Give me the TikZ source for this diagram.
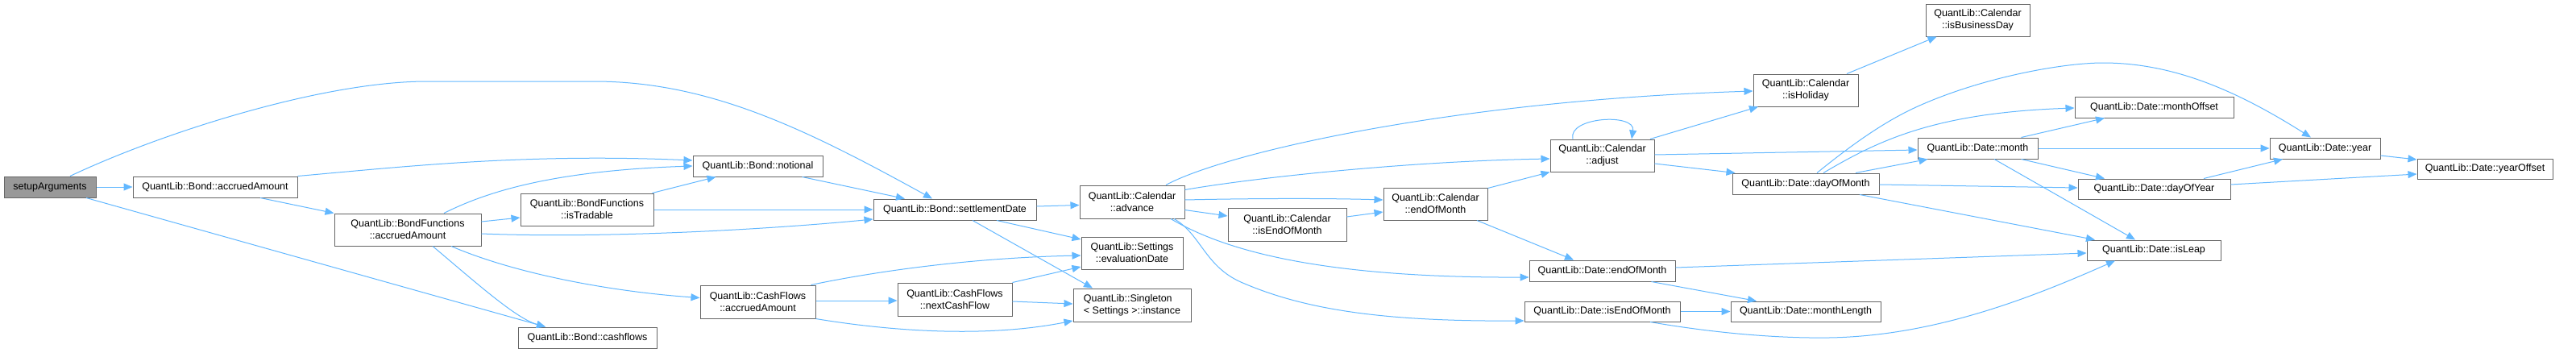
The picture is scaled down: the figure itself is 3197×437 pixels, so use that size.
\documentclass[tikz,border=0pt]{standalone}
\usepackage{fontspec}
\setmainfont{Liberation Sans}
\usetikzlibrary{arrows.meta,calc}
\definecolor{edgec}{HTML}{63B8FF}
\definecolor{bordc}{HTML}{666666}
\definecolor{selc}{HTML}{999999}
\newcommand\bx[7]{\node[box,#1,minimum width={#5pt-#3pt},minimum height={#6pt-#4pt}] (#2) at ({(#3+#5)/2},{(#4+#6)/2}) {#7};}
\begin{document}
\begin{tikzpicture}[x=1pt,y=-1pt,
 box/.style={draw=bordc,line width=1pt,fill=white,inner sep=0pt,align=center,font=\fontsize{12.5}{15}\selectfont},
 sel/.style={fill=selc},
 lft/.style={align=left},
 ed/.style={draw=edgec,line width=1pt,-{Triangle[length=11pt,width=9pt]}}]
\fill[white] (0,0) rectangle (3197,437);
\useasboundingbox (0,0) rectangle (3197,437);
% nodes
\bx{sel}{sa}{5}{219}{119}{245}{setupArguments}
\bx{}{baa}{165}{219}{369}{245}{QuantLib::Bond::accruedAmount}
\bx{}{bfaa}{415}{265}{597}{305}{QuantLib::BondFunctions\\::accruedAmount}
\bx{}{bn}{860}{193}{1021}{219}{QuantLib::Bond::notional}
\bx{}{bfit}{646}{240}{811}{280}{QuantLib::BondFunctions\\::isTradable}
\bx{}{cfaa}{869}{354}{1012}{395}{QuantLib::CashFlows\\::accruedAmount}
\bx{}{bcf}{643}{406}{815}{432}{QuantLib::Bond::cashflows}
\bx{}{bsd}{1084}{247}{1286}{273}{QuantLib::Bond::settlementDate}
\bx{}{cadv}{1340}{230}{1470}{271}{QuantLib::Calendar\\::advance}
\bx{}{sed}{1342}{294}{1468}{334}{QuantLib::Settings\\::evaluationDate}
\bx{}{cfncf}{1114}{351}{1256}{392}{QuantLib::CashFlows\\::nextCashFlow}
\bx{lft}{sgi}{1332}{358}{1478}{399}{QuantLib::Singleton\\< Settings >::instance}
\bx{}{cieom}{1524}{258}{1671}{299}{QuantLib::Calendar\\::isEndOfMonth}
\bx{}{ceom}{1717}{233}{1846}{273}{QuantLib::Calendar\\::endOfMonth}
\bx{}{cadj}{1924}{173}{2053}{213}{QuantLib::Calendar\\::adjust}
\bx{}{deom}{1898}{323}{2079}{349}{QuantLib::Date::endOfMonth}
\bx{}{dieom}{1892}{374}{2085}{399}{QuantLib::Date::isEndOfMonth}
\bx{}{cibd}{2390}{5}{2519}{45}{QuantLib::Calendar\\::isBusinessDay}
\bx{}{chol}{2176}{92}{2306}{132}{QuantLib::Calendar\\::isHoliday}
\bx{}{dmon}{2380}{171}{2529}{197}{QuantLib::Date::month}
\bx{}{ddom}{2150}{215}{2332}{241}{QuantLib::Date::dayOfMonth}
\bx{}{dml}{2148}{374}{2334}{399}{QuantLib::Date::monthLength}
\bx{}{dmo}{2575}{120}{2772}{146}{QuantLib::Date::monthOffset}
\bx{}{ddoy}{2579}{222}{2768}{247}{QuantLib::Date::dayOfYear}
\bx{}{dil}{2590}{298}{2756}{323}{QuantLib::Date::isLeap}
\bx{}{dyr}{2817}{171}{2954}{197}{QuantLib::Date::year}
\bx{}{dyo}{3000}{197}{3168}{222}{QuantLib::Date::yearOffset}
% edges
\draw[ed] (sa.east) -- (baa.west);
\draw[ed] ([xshift=25pt]sa.north) .. controls (200,165) and (400,101) .. (530,101) -- (737,101) .. controls (880,101) and (1000,160) .. ([xshift=-28pt]bsd.north);
\draw[ed] ([xshift=45pt]sa.south) -- ([xshift=-52pt]bcf.north);
\draw[ed] ([xshift=56pt]baa.south) -- (bfaa.north west);
\draw[ed] (baa.north east) .. controls (500,207) and (650,190) .. ([yshift=7pt]bn.west);
\draw[ed] ([xshift=45pt]bfaa.north) .. controls (600,240) and (680,212) .. (bn.west);
\draw[ed] ([yshift=10pt]bfaa.east) -- ([yshift=-10pt]bfit.west);
\draw[ed] ([yshift=-5pt]bfaa.east) .. controls (750,296) and (950,285) .. ([yshift=-12pt]bsd.west);
\draw[ed] ([xshift=54pt]bfaa.south) .. controls (640,340) and (760,362) .. ([yshift=5pt]cfaa.west);
\draw[ed] ([xshift=31pt]bfaa.south) .. controls (590,350) and (640,395) .. ([xshift=-52pt]bcf.north);
\draw[ed] ([xshift=-2pt]bfit.north east) -- ([xshift=-52pt]bn.south);
\draw[ed] (bfit.east) -- (bsd.west);
\draw[ed] ([xshift=55pt]bn.south) -- ([xshift=-62pt]bsd.north);
\draw[ed] ([yshift=4pt]bsd.east) -- ([yshift=-4pt]cadv.west);
\draw[ed] ([xshift=52pt]bsd.south) -- ([yshift=17pt]sed.west);
\draw[ed] ([xshift=22pt]bsd.south) -- ([xshift=-49pt]sgi.north);
\draw[ed] ([xshift=66pt]cfaa.north) .. controls (1080,338) and (1200,320) .. ([yshift=-3pt]sed.west);
\draw[ed] ([yshift=1.5pt]cfaa.east) -- ([yshift=-1.5pt]cfncf.west);
\draw[ed] (cfaa.south east) .. controls (1100,410) and (1220,420) .. ([yshift=-19.5pt]sgi.west);
\draw[ed] (cfncf.north east) -- ([yshift=-17pt]sed.west);
\draw[ed] ([yshift=-2.5pt]cfncf.east) -- ([yshift=1.5pt]sgi.west);
\draw[ed] ([xshift=42pt]cadv.north) .. controls (1520,190) and (1800,125) .. ([yshift=-1pt]chol.west);
\draw[ed] ([yshift=-6pt]cadv.north east) .. controls (1560,220) and (1750,200) .. ([yshift=-4pt]cadj.west);
\draw[ed] ([yshift=2.5pt]cadv.east) .. controls (1560,246) and (1650,246) .. ([yshift=5pt]ceom.west);
\draw[ed] ([yshift=-10pt]cadv.east) -- ([yshift=10.5pt]cieom.west);
\draw[ed] ([xshift=48pt]cadv.south) .. controls (1510,305) and (1620,345) .. ([yshift=-8pt]deom.west);
\draw[ed] ([xshift=52pt]cadv.south) .. controls (1490,290) and (1495,330) .. (1540,350) .. controls (1620,385) and (1720,399) .. ([yshift=1.5pt]dieom.south west);
\draw[ed] ([yshift=9.5pt]cieom.east) -- ([yshift=-10pt]ceom.west);
\draw[ed] ([yshift=-1pt]ceom.north east) -- (cadj.south west);
\draw[ed] ([xshift=51.5pt]ceom.south) -- ([xshift=-35.5pt]deom.north);
\draw[ed] ([xshift=-36.5pt]cadj.north) .. controls (1945,145) and (2030,140) .. ([xshift=36.5pt]cadj.north);
\draw[ed] ([xshift=59.5pt]cadj.north) -- ([xshift=-59pt]chol.south);
\draw[ed] ([yshift=1pt]cadj.east) -- ([yshift=-2pt]dmon.west);
\draw[ed] ([yshift=-10pt]cadj.east) -- ([xshift=4pt]ddom.north west);
\draw[ed] ([xshift=51pt]chol.north) -- ([xshift=-51pt]cibd.south);
\draw[ed] ([xshift=14pt]ddom.north) .. controls (2300,178) and (2340,150) .. (2380,132) .. controls (2460,96) and (2560,78) .. (2610,78) .. controls (2700,78) and (2780,115) .. ([xshift=-17.5pt]dyr.north);
\draw[ed] ([xshift=22pt]ddom.north) .. controls (2330,175) and (2400,140) .. ([yshift=-1pt]dmo.west);
\draw[ed] ([xshift=62pt]ddom.north) -- ([xshift=-62pt]dmon.south);
\draw[ed] ([yshift=-1pt]ddom.east) -- ([yshift=1.5pt]ddoy.west);
\draw[ed] ([xshift=67pt]ddom.south) -- ([xshift=-73pt]dil.north);
\draw[ed] ([xshift=54pt]dmon.north) -- ([xshift=-61.5pt]dmo.south);
\draw[ed] (dmon.east) -- (dyr.west);
\draw[ed] ([xshift=54pt]dmon.south) -- ([xshift=-61.5pt]ddoy.north);
\draw[ed] ([xshift=20.5pt]dmon.south) -- ([xshift=-23pt]dil.north);
\draw[ed] ([xshift=61.5pt]ddoy.north) -- ([xshift=-52.5pt]dyr.south);
\draw[ed] ([yshift=5.5pt]ddoy.east) -- ([yshift=-6.5pt]dyo.west);
\draw[ed] ([yshift=-9pt]dyr.east) -- ([yshift=11.5pt]dyo.west);
\draw[ed] ([xshift=61pt]deom.south) -- ([xshift=-61pt]dml.north);
\draw[ed] ([yshift=4pt]deom.east) -- ([yshift=-3.5pt]dil.west);
\draw[ed] (dieom.east) -- (dml.west);
\draw[ed] ([xshift=59.5pt]dieom.south) .. controls (2120,412) and (2200,420) .. (2270,419) .. controls (2400,417) and (2520,370) .. ([xshift=-48pt]dil.south);
\end{tikzpicture}
\end{document}
